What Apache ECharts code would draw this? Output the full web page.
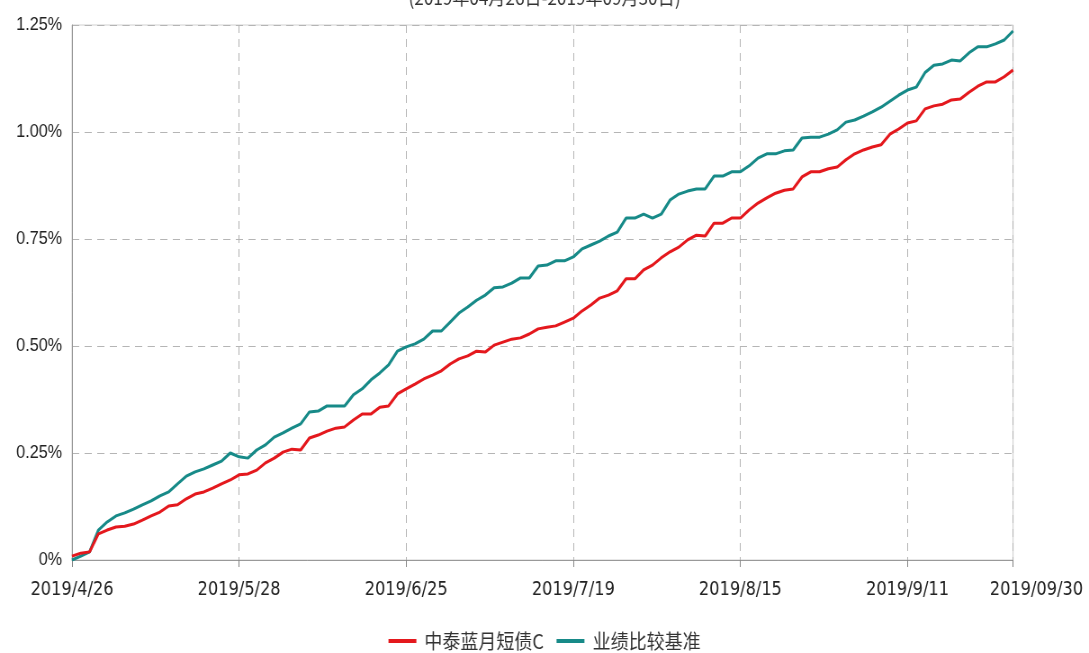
<!DOCTYPE html>
<html>
<head>
<meta charset="utf-8">
<script src="https://cdn.jsdelivr.net/npm/echarts@6/dist/echarts.min.js"></script>
<style>
html,body{margin:0;padding:0;background:#fff;overflow:hidden;}
#wrap{width:1089px;height:653px;overflow:hidden;position:relative;}
#chart{width:1210px;height:653px;transform:scaleX(0.9);transform-origin:0 0;}
</style>
</head>
<body>
<div id="wrap"><div id="chart"></div></div>
<script>
const titleText = '(2019年04月26日-2019年09月30日)';
const seriesNames = ['中泰蓝月短债C', '业绩比较基准'];
const tickLabels = ['2019/4/26','2019/5/28','2019/6/25','2019/7/19','2019/8/15','2019/9/11','2019/09/30'];
const yTicks = [0, 0.25, 0.5, 0.75, 1.0, 1.25];

const dates = [
 '2019/4/26','2019/4/29','2019/4/30',
 '2019/5/6','2019/5/7','2019/5/8','2019/5/9','2019/5/10','2019/5/13','2019/5/14','2019/5/15','2019/5/16','2019/5/17',
 '2019/5/20','2019/5/21','2019/5/22','2019/5/23','2019/5/24','2019/5/27','2019/5/28','2019/5/29','2019/5/30','2019/5/31',
 '2019/6/3','2019/6/4','2019/6/5','2019/6/6','2019/6/10','2019/6/11','2019/6/12','2019/6/13','2019/6/14',
 '2019/6/17','2019/6/18','2019/6/19','2019/6/20','2019/6/21','2019/6/24','2019/6/25','2019/6/26','2019/6/27','2019/6/28','2019/6/30',
 '2019/7/1','2019/7/2','2019/7/3','2019/7/4','2019/7/5','2019/7/8','2019/7/9','2019/7/10','2019/7/11','2019/7/12',
 '2019/7/15','2019/7/16','2019/7/17','2019/7/18','2019/7/19','2019/7/22','2019/7/23','2019/7/24','2019/7/25','2019/7/26',
 '2019/7/29','2019/7/30','2019/7/31','2019/8/1','2019/8/2','2019/8/5','2019/8/6','2019/8/7','2019/8/8','2019/8/9',
 '2019/8/12','2019/8/13','2019/8/14','2019/8/15','2019/8/16','2019/8/19','2019/8/20','2019/8/21','2019/8/22','2019/8/23',
 '2019/8/26','2019/8/27','2019/8/28','2019/8/29','2019/8/30','2019/9/2','2019/9/3','2019/9/4','2019/9/5','2019/9/6',
 '2019/9/9','2019/9/10','2019/9/11','2019/9/12','2019/9/16','2019/9/17','2019/9/18','2019/9/19','2019/9/20',
 '2019/9/23','2019/9/24','2019/9/25','2019/9/26','2019/9/27','2019/09/30'
];

// 中泰蓝月短债C cumulative return (%)
const fundValues = [
 0.009,0.016,0.019,0.061,0.070,0.077,0.079,0.084,0.093,0.103,
 0.112,0.126,0.129,0.143,0.154,0.159,0.168,0.178,0.187,0.199,
 0.201,0.210,0.227,0.238,0.252,0.259,0.257,0.285,0.292,0.301,
 0.308,0.311,0.327,0.341,0.341,0.357,0.360,0.388,0.400,0.411,
 0.423,0.432,0.442,0.458,0.470,0.477,0.488,0.486,0.502,0.509,
 0.516,0.519,0.528,0.540,0.544,0.547,0.556,0.565,0.582,0.596,
 0.612,0.619,0.629,0.657,0.657,0.678,0.689,0.706,0.720,0.731,
 0.748,0.759,0.757,0.787,0.787,0.799,0.799,0.818,0.834,0.846,
 0.857,0.864,0.867,0.895,0.907,0.907,0.914,0.918,0.935,0.949,
 0.958,0.965,0.970,0.995,1.007,1.021,1.026,1.054,1.061,1.065,
 1.075,1.077,1.093,1.107,1.117,1.117,1.129,1.145
];

// 业绩比较基准 cumulative return (%)
const benchValues = [
 0.000,0.009,0.019,0.070,0.089,0.103,0.110,0.119,0.129,0.138,
 0.150,0.159,0.178,0.196,0.206,0.213,0.222,0.231,0.250,0.241,
 0.238,0.257,0.269,0.287,0.297,0.308,0.318,0.346,0.348,0.360,
 0.360,0.360,0.386,0.400,0.421,0.437,0.456,0.488,0.498,0.505,
 0.516,0.535,0.535,0.556,0.577,0.591,0.607,0.619,0.636,0.638,
 0.647,0.659,0.659,0.687,0.689,0.699,0.699,0.708,0.727,0.736,
 0.745,0.757,0.766,0.799,0.799,0.808,0.799,0.808,0.841,0.855,
 0.862,0.867,0.867,0.897,0.897,0.907,0.907,0.921,0.939,0.949,
 0.949,0.956,0.958,0.986,0.988,0.988,0.995,1.005,1.023,1.028,
 1.037,1.047,1.058,1.072,1.086,1.098,1.105,1.139,1.156,1.159,
 1.168,1.166,1.185,1.199,1.199,1.206,1.215,1.236
];

const RED = '#e4181d';
const TEAL = '#178a88';
const XFONT = '"DejaVu Sans Condensed", "Liberation Sans Narrow", "DejaVu Sans", sans-serif';
const showTick = (idx, val) => tickLabels.indexOf(val) >= 0;

const chart = echarts.init(document.getElementById('chart'), null, {renderer: 'canvas'});
chart.setOption({
  animation: false,
  backgroundColor: '#fff',
  title: {
    text: titleText, left: 'center', top: -17,
    textStyle: {fontSize: 19, fontWeight: 'normal', color: '#333', fontFamily: '"Noto Sans CJK SC", sans-serif'}
  },
  legend: {
    data: seriesNames, left: 'center', top: 626,
    icon: 'rect', itemWidth: 31, itemHeight: 4, itemGap: 14,
    textStyle: {fontSize: 20, color: '#333', fontFamily: '"Noto Sans CJK SC", sans-serif', padding: [0, 0, 0, 4]}
  },
  grid: {left: 80, right: 84.4, top: 25, bottom: 93, show: true, borderColor: '#d0d0d0', borderWidth: 1},
  xAxis: {
    type: 'category', data: dates, boundaryGap: false,
    axisLine: {lineStyle: {color: '#999', width: 1}},
    axisTick: {show: true, interval: showTick, length: 7, lineStyle: {color: '#888'}},
    splitLine: {show: true, interval: showTick, lineStyle: {color: '#b5b5b5', type: [8, 6], width: 1}},
    axisLabel: {
      interval: showTick, margin: 20, color: '#222', fontSize: 20,
      fontFamily: XFONT,
      formatter: (v) => v === tickLabels[tickLabels.length - 1] ? '{end|' + v + '}' : v,
      rich: {end: {padding: [0, 0, 4, 52], fontSize: 20, color: '#222', fontFamily: XFONT}}
    }
  },
  yAxis: {
    type: 'value', min: yTicks[0], max: yTicks[yTicks.length - 1], interval: 0.25,
    axisLine: {show: true, lineStyle: {color: '#999', width: 1}},
    axisTick: {show: false},
    splitLine: {show: true, lineStyle: {color: '#b5b5b5', type: [8, 6], width: 1}},
    axisLabel: {
      margin: 11, color: '#222', fontSize: 18,
      fontFamily: '"Liberation Sans", Arial, sans-serif',
      formatter: (v) => v === 0 ? '0%' : v.toFixed(2) + '%'
    }
  },
  series: [
    {name: seriesNames[0], type: 'line', data: fundValues, showSymbol: false, symbol: 'none',
     lineStyle: {color: RED, width: 3}, itemStyle: {color: RED}, z: 3},
    {name: seriesNames[1], type: 'line', data: benchValues, showSymbol: false, symbol: 'none',
     lineStyle: {color: TEAL, width: 3}, itemStyle: {color: TEAL}, z: 2}
  ]
});
</script>
</body>
</html>
